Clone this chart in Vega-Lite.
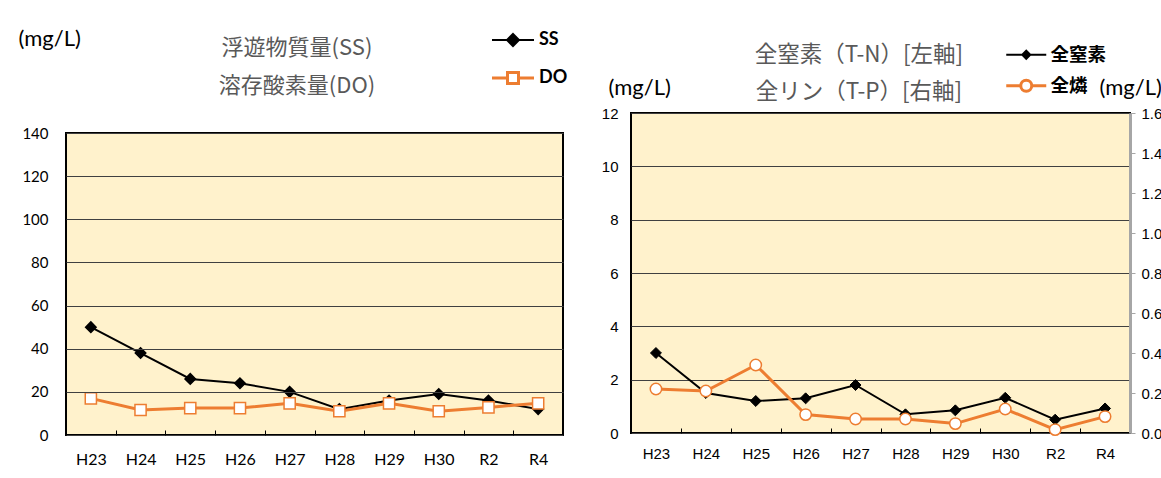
{
  "$schema": "https://vega.github.io/schema/vega-lite/v6.json",
  "padding": {"left": 18, "top": 27, "right": 0, "bottom": 0},
  "background": "white",
  "spacing": 32,
  "datasets": {
    "ssdo": [
      {"year": "H23", "series": "SS", "value": 50}, {"year": "H24", "series": "SS", "value": 38},
      {"year": "H25", "series": "SS", "value": 26}, {"year": "H26", "series": "SS", "value": 24},
      {"year": "H27", "series": "SS", "value": 20}, {"year": "H28", "series": "SS", "value": 12},
      {"year": "H29", "series": "SS", "value": 16}, {"year": "H30", "series": "SS", "value": 19},
      {"year": "R2", "series": "SS", "value": 16}, {"year": "R4", "series": "SS", "value": 12},
      {"year": "H23", "series": "DO", "value": 17}, {"year": "H24", "series": "DO", "value": 11.6},
      {"year": "H25", "series": "DO", "value": 12.5}, {"year": "H26", "series": "DO", "value": 12.5},
      {"year": "H27", "series": "DO", "value": 14.7}, {"year": "H28", "series": "DO", "value": 11},
      {"year": "H29", "series": "DO", "value": 14.7}, {"year": "H30", "series": "DO", "value": 11},
      {"year": "R2", "series": "DO", "value": 12.8}, {"year": "R4", "series": "DO", "value": 14.7}
    ],
    "tntp": [
      {"year": "H23", "series": "全窒素", "value": 3.0}, {"year": "H24", "series": "全窒素", "value": 1.5},
      {"year": "H25", "series": "全窒素", "value": 1.2}, {"year": "H26", "series": "全窒素", "value": 1.3},
      {"year": "H27", "series": "全窒素", "value": 1.8}, {"year": "H28", "series": "全窒素", "value": 0.7},
      {"year": "H29", "series": "全窒素", "value": 0.85}, {"year": "H30", "series": "全窒素", "value": 1.32},
      {"year": "R2", "series": "全窒素", "value": 0.5}, {"year": "R4", "series": "全窒素", "value": 0.92},
      {"year": "H23", "series": "全燐", "value": 0.22}, {"year": "H24", "series": "全燐", "value": 0.21},
      {"year": "H25", "series": "全燐", "value": 0.34}, {"year": "H26", "series": "全燐", "value": 0.092},
      {"year": "H27", "series": "全燐", "value": 0.07}, {"year": "H28", "series": "全燐", "value": 0.07},
      {"year": "H29", "series": "全燐", "value": 0.047}, {"year": "H30", "series": "全燐", "value": 0.12},
      {"year": "R2", "series": "全燐", "value": 0.017}, {"year": "R4", "series": "全燐", "value": 0.082}
    ]
  },
  "config": {
    "view": {"stroke": "black", "strokeWidth": 2, "fill": "#FFF2CC"},
    "axis": {"labelColor": "black", "titleColor": "black"}
  },
  "resolve": {"scale": {"color": "independent"}, "legend": {"color": "independent"}},
  "hconcat": [
    {
      "width": 497,
      "height": 322,
      "view": {"stroke": null, "fill": null},
      "title": {
        "text": ["浮遊物質量(SS)", "溶存酸素量(DO)"],
        "font": "Noto Sans CJK JP", "fontSize": 22, "fontWeight": "normal", "color": "#595959",
        "lineHeight": 38, "anchor": "middle", "frame": "group", "dx": -17.5,
        "baseline": "bottom", "offset": -93
      },
      "layer": [
        {
          "data": {"values": [{}]},
          "mark": {"type": "rect", "fill": "#FFF2CC", "stroke": "#000000", "strokeWidth": 2},
          "encoding": {
            "y": {"datum": 0, "type": "quantitative", "scale": {"domain": [0, 149.3], "nice": false}},
            "y2": {"datum": 140}
          }
        },
        {
          "data": {"name": "ssdo"},
          "encoding": {
            "x": {
              "field": "year", "type": "nominal",
              "sort": ["H23", "H24", "H25", "H26", "H27", "H28", "H29", "H30", "R2", "R4"],
              "scale": {"type": "band", "paddingInner": 0, "paddingOuter": 0},
              "axis": {
                "title": null, "labelAngle": 0, "labelFont": "Lato", "labelFontSize": 16,
                "labelPadding": 21.5, "tickBand": "extent", "ticks": true, "tickSize": -5,
                "tickColor": "black", "tickWidth": 1, "domain": false, "grid": false, "zindex": 1
              }
            },
            "y": {
              "field": "value", "type": "quantitative",
              "scale": {"domain": [0, 149.3], "nice": false},
              "axis": {
                "values": [0, 20, 40, 60, 80, 100, 120, 140], "grid": true, "gridColor": "#404040",
                "gridWidth": 1, "gridOpacity": 1, "domain": false, "ticks": false, "zindex": 1,
                "labelFont": "Lato", "labelFontSize": 15, "labelPadding": 18,
                "title": "(mg/L)", "titleAngle": 0, "titleAlign": "left", "titleBaseline": "middle",
                "titleX": -48, "titleY": -74.7, "titleFont": "Lato", "titleFontSize": 22, "titleFontWeight": "normal"
              }
            }
          },
          "layer": [
            {
              "mark": {"type": "line"},
              "encoding": {
                "color": {
                  "field": "series", "type": "nominal",
                  "scale": {"domain": ["SS", "DO"], "range": ["#000000", "#ED7D31"]},
                  "legend": {
                    "orient": "none", "legendX": 438, "legendY": -82, "title": null, "direction": "vertical",
                    "symbolSize": 400, "labelFont": "Lato", "labelFontSize": 18, "labelFontWeight": "bold",
                    "labelColor": "black", "labelOffset": 17, "rowPadding": 16,
                    "encode": {
                      "symbols": {
                        "update": {
                          "shape": {"signal": "datum.value === 'SS' ? 'M-2.1,0H2.1M0,-0.6L0.6,0L0,0.6L-0.6,0Z' : 'M-2.1,0H-0.55M0.55,0H2.1M-0.55,-0.55H0.55V0.55H-0.55Z'"},
                          "fill": {"signal": "datum.value === 'SS' ? '#000000' : '#ffffff'"},
                          "stroke": {"signal": "datum.value === 'SS' ? '#000000' : '#ED7D31'"},
                          "strokeWidth": {"signal": "datum.value === 'SS' ? 2 : 3"},
                          "opacity": {"value": 1}
                        }
                      }
                    }
                  }
                },
                "strokeWidth": {"condition": {"test": "datum.series === 'DO'", "value": 3}, "value": 2}
              }
            },
            {
              "mark": {"type": "point", "filled": true, "opacity": 1},
              "encoding": {
                "shape": {"condition": {"test": "datum.series === 'SS'", "value": "diamond"}, "value": "square"},
                "fill": {"condition": {"test": "datum.series === 'SS'", "value": "#000000"}, "value": "#ffffff"},
                "stroke": {"condition": {"test": "datum.series === 'SS'", "value": "#000000"}, "value": "#ED7D31"},
                "strokeWidth": {"value": 1.5},
                "size": {"condition": {"test": "datum.series === 'SS'", "value": 110}, "value": 125}
              }
            }
          ]
        }
      ]
    },
    {
      "width": 499,
      "height": 320,
      "data": {"name": "tntp"},
      "title": {
        "text": ["全窒素（T-N）[左軸]", "全リン（T-P）[右軸]"],
        "font": "Noto Sans CJK JP", "fontSize": 22.5, "fontWeight": "normal", "color": "#595959",
        "lineHeight": 37, "anchor": "middle", "frame": "group", "dx": -21.5,
        "baseline": "bottom", "offset": -81.3
      },
      "encoding": {
        "x": {
          "field": "year", "type": "nominal",
          "sort": ["H23", "H24", "H25", "H26", "H27", "H28", "H29", "H30", "R2", "R4"],
          "scale": {"type": "band", "paddingInner": 0, "paddingOuter": 0},
          "axis": {
            "title": null, "labelAngle": 0, "labelFont": "Liberation Sans", "labelFontSize": 15,
            "labelPadding": 18, "tickBand": "extent", "ticks": true, "tickSize": -5,
            "tickColor": "black", "tickWidth": 1, "domain": false, "grid": false
          }
        }
      },
      "layer": [
        {
          "transform": [{"filter": "datum.series === '全窒素'"}],
          "encoding": {
            "y": {
              "field": "value", "type": "quantitative",
              "scale": {"domain": [0, 12], "nice": false},
              "axis": {
                "values": [0, 2, 4, 6, 8, 10, 12], "grid": true, "gridColor": "#404040",
                "gridWidth": 1, "gridOpacity": 1, "domain": false, "ticks": false,
                "labelFont": "Liberation Sans", "labelFontSize": 15, "labelPadding": 13,
                "title": "(mg/L)", "titleAngle": 0, "titleAlign": "left", "titleBaseline": "middle",
                "titleX": -23, "titleY": -26, "titleFont": "Lato", "titleFontSize": 22, "titleFontWeight": "normal"
              }
            }
          },
          "layer": [
            {
              "mark": {"type": "line", "strokeWidth": 2},
              "encoding": {
                "color": {
                  "field": "series", "type": "nominal",
                  "scale": {"domain": ["全窒素", "全燐"], "range": ["#000000", "#ED7D31"]},
                  "legend": {
                    "orient": "none", "legendX": 386, "legendY": -67.5, "title": null, "direction": "vertical",
                    "symbolSize": 400, "labelFont": "Noto Sans CJK JP", "labelFontSize": 18.5, "labelFontWeight": "bold",
                    "labelColor": "black", "labelOffset": 15, "rowPadding": 9,
                    "encode": {
                      "symbols": {
                        "update": {
                          "shape": {"signal": "datum.value === '全窒素' ? 'M-2,0H2M0,-0.4L0.4,0L0,0.4L-0.4,0Z' : 'M-2,0H-0.55M0.55,0H2M0.55,0A0.55,0.55,0,1,1,-0.55,0A0.55,0.55,0,1,1,0.55,0Z'"},
                          "fill": {"signal": "datum.value === '全窒素' ? '#000000' : '#ffffff'"},
                          "stroke": {"signal": "datum.value === '全窒素' ? '#000000' : '#ED7D31'"},
                          "strokeWidth": {"signal": "datum.value === '全窒素' ? 2 : 3"},
                          "opacity": {"value": 1}
                        }
                      }
                    }
                  }
                }
              }
            },
            {
              "mark": {"type": "point", "shape": "diamond", "filled": true, "fill": "#000000", "stroke": "#000000", "strokeWidth": 1, "size": 120, "opacity": 1}
            }
          ]
        },
        {
          "transform": [{"filter": "datum.series === '全燐'"}],
          "encoding": {
            "y": {
              "field": "value", "type": "quantitative",
              "scale": {"domain": [0, 1.6], "nice": false},
              "axis": {
                "orient": "right", "values": [0, 0.2, 0.4, 0.6, 0.8, 1.0, 1.2, 1.4, 1.6], "format": ".1f",
                "grid": false, "domain": true, "domainColor": "#A6A6A6", "domainWidth": 3,
                "ticks": true, "tickColor": "#A6A6A6", "tickSize": 5, "tickWidth": 1,
                "labelFont": "Liberation Sans", "labelFontSize": 15, "labelPadding": 6,
                "title": "(mg/L)", "titleAngle": 0, "titleAlign": "left", "titleBaseline": "middle",
                "titleX": -31, "titleY": -26, "titleFont": "Lato", "titleFontSize": 22, "titleFontWeight": "normal"
              }
            }
          },
          "layer": [
            {
              "mark": {"type": "line", "strokeWidth": 3},
              "encoding": {
                "color": {
                  "field": "series", "type": "nominal",
                  "scale": {"domain": ["全窒素", "全燐"], "range": ["#000000", "#ED7D31"]}
                }
              }
            },
            {
              "mark": {"type": "point", "shape": "circle", "filled": true, "fill": "#ffffff", "stroke": "#ED7D31", "strokeWidth": 1.5, "size": 130, "opacity": 1}
            }
          ]
        }
      ],
      "resolve": {"scale": {"y": "independent"}}
    }
  ]
}
